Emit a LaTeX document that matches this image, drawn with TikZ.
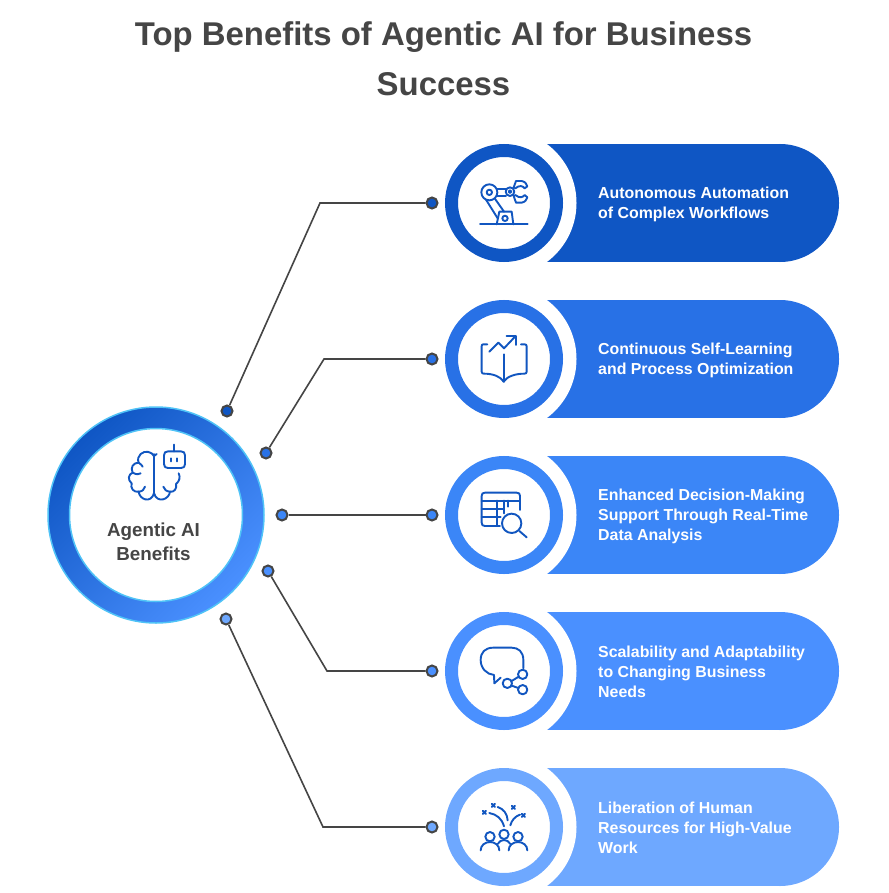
\documentclass[tikz,border=0pt]{standalone}
\usepackage{fontspec}
\setmainfont{Liberation Sans}
\definecolor{rowa}{HTML}{0F56C4}
\definecolor{rowb}{HTML}{2871E6}
\definecolor{rowc}{HTML}{3B86F7}
\definecolor{rowd}{HTML}{4A90FF}
\definecolor{rowe}{HTML}{6EA8FF}
\definecolor{ink}{HTML}{454545}
\definecolor{iconblue}{HTML}{1156C0}
\definecolor{halo}{HTML}{4FC3F7}
\begin{document}
\begin{tikzpicture}[x=1pt,y=-1pt,
    dot/.style={circle,draw=ink,line width=2pt,inner sep=0pt,minimum size=11pt},
    link/.style={ink,line width=1.6pt},
    ring/.style={circle,fill=white,line width=13pt,inner sep=0pt,minimum size=105pt},
    label/.style={anchor=west,align=left,inner sep=0pt,text=white,font=\fontsize{15.9}{20}\bfseries\selectfont},
    icon/.style={iconblue,line width=1.9pt,line cap=round,line join=round}]
    \useasboundingbox (0,0) rectangle (888,893);
    \fill[white] (0,0) rectangle (888,893);

    \node[text=ink,align=center,font=\fontsize{32.9}{50}\bfseries\selectfont] (title) at (443.5,59) {Top Benefits of Agentic AI for Business\\Success};

    % pills
    \fill[rowa] (544,144) rectangle (780,262);
    \fill[rowa] (780,203) circle (59);
    \fill[rowb] (544,300) rectangle (780,418);
    \fill[rowb] (780,359) circle (59);
    \fill[rowc] (544,456) rectangle (780,574);
    \fill[rowc] (780,515) circle (59);
    \fill[rowd] (544,612) rectangle (780,730);
    \fill[rowd] (780,671) circle (59);
    \fill[rowe] (544,768) rectangle (780,886);
    \fill[rowe] (780,827) circle (59);
    \fill[white] (503,203) circle (73.5);
    \fill[white] (503,359) circle (73.5);
    \fill[white] (503,515) circle (73.5);
    \fill[white] (503,671) circle (73.5);
    \fill[white] (503,827) circle (73.5);

    \node[ring,draw=rowa] (ringa) at (504,203) {};
    \node[ring,draw=rowb] (ringb) at (504,359) {};
    \node[ring,draw=rowc] (ringc) at (504,515) {};
    \node[ring,draw=rowd] (ringd) at (504,671) {};
    \node[ring,draw=rowe] (ringe) at (504,827) {};

    \node[label] (texta) at (598,204) {Autonomous Automation\\of Complex Workflows};
    \node[label] (textb) at (598,360) {Continuous Self-Learning\\and Process Optimization};
    \node[label] (textc) at (598,516) {Enhanced Decision-Making\\Support Through Real-Time\\Data Analysis};
    \node[label] (textd) at (598,672) {Scalability and Adaptability\\to Changing Business\\Needs};
    \node[label] (texte) at (598,828) {Liberation of Human\\Resources for High-Value\\Work};

    % hub
    \node[circle,draw=halo,line width=1.5pt,minimum size=216pt,inner sep=0pt,left color=rowa,right color=rowd,shading angle=45] (hub) at (156,515) {};
    \node[circle,draw=halo,fill=white,line width=1.5pt,minimum size=173pt,inner sep=0pt] (hubin) at (156,515) {};
    \node[text=ink,align=center,font=\fontsize{18.8}{24}\bfseries\selectfont] (hubtext) at (153.5,542) {Agentic AI\\Benefits};

    % dots and links
    \node[dot,fill=rowa] (ina) at (227,411) {};
    \node[dot,fill=rowb] (inb) at (266,453) {};
    \node[dot,fill=rowc] (inc) at (282,515) {};
    \node[dot,fill=rowd] (ind) at (268,571) {};
    \node[dot,fill=rowe] (ine) at (226,619) {};
    \node[dot,fill=rowa] (outa) at (432,203) {};
    \node[dot,fill=rowb] (outb) at (432,359) {};
    \node[dot,fill=rowc] (outc) at (432,515) {};
    \node[dot,fill=rowd] (outd) at (432,671) {};
    \node[dot,fill=rowe] (oute) at (432,827) {};
    \coordinate (benda) at (320,203);
    \coordinate (bendb) at (324,359);
    \coordinate (bendd) at (327,671);
    \coordinate (bende) at (323,827);
    \draw[link] (ina) -- (benda) -- (outa);
    \draw[link] (inb) -- (bendb) -- (outb);
    \draw[link] (inc) -- (outc);
    \draw[link] (ind) -- (bendd) -- (outd);
    \draw[link] (ine) -- (bende) -- (oute);

    % robot arm
    \begin{scope}[shift={(430,135)},scale=1/3,icon]
        \draw (150,268) -- (293,268);
        \draw (200,268) -- (208,230) -- (245,230) -- (250,268);
        \draw (225,250) circle (8);
        \draw (178,172) circle (24);
        \draw (178,172) circle (8);
        \draw (168,194) -- (203,250);
        \draw (194,190) -- (222,230);
        \draw (200,162) -- (228,162);
        \draw (200,182) -- (228,182);
        \draw (240,170) circle (13);
        \draw (240,170) circle (4);
        \draw (250,160) -- (258,138) -- (275,138) .. controls (285,140) and (290,146) .. (292,154) -- (284,160) .. controls (278,152) and (268,150) .. (256,160);
        \draw (250,180) -- (258,203) -- (275,203) .. controls (285,201) and (290,195) .. (292,187) -- (284,180) .. controls (278,188) and (268,190) .. (256,180);
    \end{scope}

    % book
    \begin{scope}[shift={(430,295)},scale=1/3,icon]
        \draw (221,178) -- (221,260);
        \draw (172,148) -- (160,148) .. controls (156,148) and (155,150) .. (155,154) -- (155,230) .. controls (155,235) and (158,236) .. (162,236) .. controls (190,236) and (212,245) .. (221,260);
        \draw (273,148) -- (284,148) .. controls (288,148) and (290,150) .. (290,154) -- (290,230) .. controls (290,235) and (287,236) .. (283,236) .. controls (255,236) and (230,245) .. (221,260);
        \draw (178,170) -- (205,143) -- (222,160) -- (255,125);
        \draw (230,124) -- (258,124) -- (258,150);
    \end{scope}

    % table
    \begin{scope}[shift={(430,450)},scale=1/3,icon]
        \draw (210,228) -- (165,228) .. controls (158,228) and (155,225) .. (155,218) -- (155,138) .. controls (155,131) and (158,128) .. (165,128) -- (260,128) .. controls (267,128) and (270,131) .. (270,138) -- (270,180);
        \draw (155,152) -- (270,152);
        \draw (155,178) -- (222,178);
        \draw (155,202) -- (212,202);
        \draw (200,152) -- (200,228);
        \draw (222,152) -- (222,190);
        \draw (235,152) -- (235,170);
        \draw (245,220) circle (29);
        \draw (268,243) -- (290,262);
    \end{scope}

    % chat
    \begin{scope}[shift={(430,605)},scale=1/3,icon]
        \draw (280,190) -- (280,165) .. controls (280,140) and (265,128) .. (245,128) -- (190,128) .. controls (165,128) and (152,142) .. (152,165) .. controls (152,190) and (170,208) .. (192,210) -- (193,235) -- (212,218);
        \draw (232,235) circle (14);
        \draw (278,208) circle (14);
        \draw (278,254) circle (14);
        \draw (245,228) -- (266,215);
        \draw (245,242) -- (265,249);
    \end{scope}

    % people
    \begin{scope}[shift={(430,762)},scale=1/3,icon]
        \draw (180,224) circle (14);
        \draw (222,217) circle (14);
        \draw (264,224) circle (14);
        \draw (152,265) .. controls (152,250) and (165,240) .. (180,240) .. controls (195,240) and (208,250) .. (208,265);
        \draw (236,265) .. controls (236,250) and (249,240) .. (264,240) .. controls (279,240) and (292,250) .. (292,265);
        \draw (203,246) .. controls (208,238) and (214,234) .. (222,234) .. controls (230,234) and (236,238) .. (241,246);
        \draw (178,153) .. controls (200,157) and (216,170) .. (222,193);
        \draw (203,135) .. controls (220,140) and (232,155) .. (233,175);
        \draw (241,190) .. controls (245,175) and (255,163) .. (270,158);
        \draw (158,146) -- (168,156) (168,146) -- (158,156);
        \draw (185,125) -- (195,135) (195,125) -- (185,135);
        \draw (245,131) -- (255,141) (255,131) -- (245,141);
        \draw (275,155) -- (285,165) (285,155) -- (275,165);
    \end{scope}

    % brain
    \begin{scope}[shift={(30,390)},scale=1/3,icon]
        \draw (414,184) -- (453,184) .. controls (461,184) and (465,188) .. (465,196) -- (465,222) .. controls (465,230) and (461,234) .. (453,234) -- (414,234) .. controls (406,234) and (402,230) .. (402,222) -- (402,196) .. controls (402,188) and (406,184) .. (414,184);
        \draw (433,164) -- (433,184);
        \draw (422,205) -- (422,214);
        \draw (442,205) -- (442,214);
        \draw (372,192) -- (372,310);
        \draw (380,192) -- (372,198) .. controls (365,185) and (345,180) .. (332,192) .. controls (325,198) and (322,208) .. (326,218) .. controls (310,218) and (300,232) .. (308,248) .. controls (295,252) and (292,270) .. (305,280) .. controls (300,295) and (312,308) .. (326,305) .. controls (328,328) and (362,342) .. (372,310);
        \draw (326,218) .. controls (332,222) and (336,226) .. (338,230);
        \draw (308,248) .. controls (318,254) and (328,254) .. (332,250);
        \draw (326,305) .. controls (336,305) and (344,298) .. (345,290);
        \draw (372,310) .. controls (382,342) and (418,328) .. (420,305) .. controls (432,308) and (442,295) .. (438,282) .. controls (448,274) and (452,262) .. (446,250);
        \draw (420,305) .. controls (410,305) and (402,298) .. (400,290);
    \end{scope}
\end{tikzpicture}
\end{document}
